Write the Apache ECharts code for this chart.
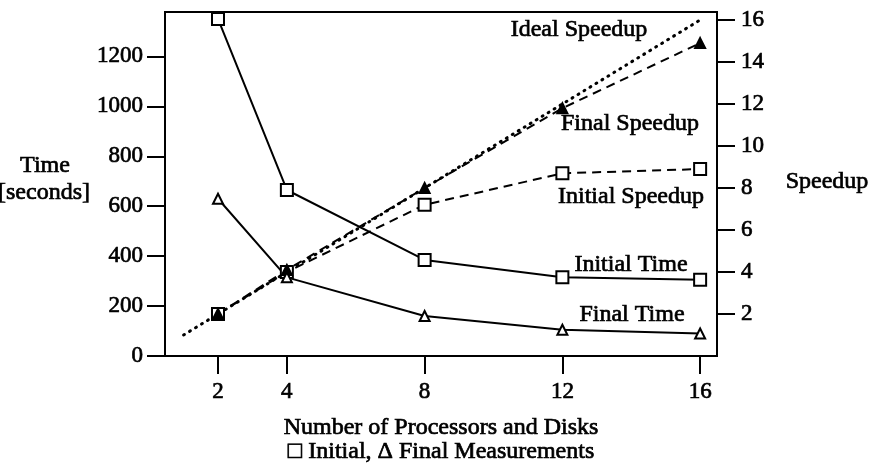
<!DOCTYPE html>
<html>
<head>
<meta charset="utf-8">
<script src="https://cdn.jsdelivr.net/npm/echarts@6/dist/echarts.min.js"></script>
<style>html,body{margin:0;padding:0;background:#fff}#c{width:875px;height:468px}</style>
</head>
<body>
<div id="c"></div>
<script>
// ---- data ----
const processors = [2, 4, 8, 12, 16];
const initialTime = [1350, 665, 385, 315, 305];
const finalTime = [630, 315, 160, 105, 90];
const initialSpeedup = [2.0, 4.0, 7.2, 8.7, 8.9];
const finalSpeedup = [2.0, 4.1, 8.0, 11.8, 14.9];
const idealX = [1, 16];
const idealSpeedup = [1, 16];
const timeTicks = [0, 200, 400, 600, 800, 1000, 1200];
const speedupTicks = [2, 4, 6, 8, 10, 12, 14, 16];
const xTicks = [2, 4, 8, 12, 16];
const seriesLabels = ['Ideal Speedup', 'Final Speedup', 'Initial Speedup', 'Initial Time', 'Final Time'];

const FONT = '"Liberation Serif", "DejaVu Serif", serif';
const pair = (xs, ys) => xs.map((x, i) => [x, ys[i]]);

const chart = echarts.init(document.getElementById('c'), null, {renderer: 'canvas'});

const axisCommon = {
  axisLine: {show: true, lineStyle: {color: '#000', width: 2}},
  splitLine: {show: false},
  axisTick: {show: true, length: 18, lineStyle: {color: '#000', width: 2}},
};
const labelStyle = {color: '#000', fontFamily: FONT, fontSize: 23, textBorderColor: '#000', textBorderWidth: 0.7, formatter: v => String(v)};

const lineSeries = (name, data, yIdx, dashed, symbol, fill) => ({
  name, type: 'line', data: pair(processors, data), yAxisIndex: yIdx,
  symbol, symbolSize: symbol === 'rect' ? 12 : 10,
  itemStyle: {color: fill, borderColor: '#000', borderWidth: 2},
  lineStyle: {color: '#000', width: 2, type: dashed ? [9, 6] : 'solid'},
  z: 3, animation: false
});

const txt = (x, y, text) => ({
  type: 'text', x, y,
  style: {text, fontFamily: FONT, fontSize: 24, fill: '#000', stroke: '#000', lineWidth: 0.7, align: 'center', verticalAlign: 'middle'}
});

chart.setOption({
  animation: false,
  grid: {left: 165, right: 158, top: 12, bottom: 112, show: true, borderColor: '#000', borderWidth: 2, backgroundColor: 'transparent'},
  xAxis: {
    type: 'value', min: 0.461, max: 16.49,
    ...axisCommon,
    axisTick: {...axisCommon.axisTick, customValues: xTicks},
    axisLabel: {...labelStyle, customValues: xTicks, margin: 24}
  },
  yAxis: [
    {
      type: 'value', min: 0, max: 1378, position: 'left',
      ...axisCommon,
      axisTick: {...axisCommon.axisTick, customValues: timeTicks},
      axisLabel: {...labelStyle, customValues: timeTicks, margin: 22}
    },
    {
      type: 'value', min: 0, max: 16.38, position: 'right',
      ...axisCommon,
      axisTick: {...axisCommon.axisTick, customValues: speedupTicks},
      axisLabel: {...labelStyle, customValues: speedupTicks, margin: 24}
    }
  ],
  series: [
    {
      name: 'Ideal Speedup', type: 'line', yAxisIndex: 1, data: pair(idealX, idealSpeedup),
      symbol: 'none', lineStyle: {color: '#000', width: 3, type: [1, 6], cap: 'round'}, z: 2
    },
    lineSeries('Initial Speedup', initialSpeedup, 1, true, 'rect', '#fff'),
    lineSeries('Final Speedup', finalSpeedup, 1, true, 'triangle', '#000'),
    lineSeries('Initial Time', initialTime, 0, false, 'rect', '#fff'),
    lineSeries('Final Time', finalTime, 0, false, 'triangle', '#fff')
  ],
  graphic: [
    txt(579, 30, seriesLabels[0]),
    txt(630, 124, seriesLabels[1]),
    txt(631, 197, seriesLabels[2]),
    txt(631, 265, seriesLabels[3]),
    txt(632, 315, seriesLabels[4]),
    txt(45, 166, 'Time'),
    txt(44, 193, '[seconds]'),
    txt(827, 182, 'Speedup'),
    txt(441, 428, 'Number of Processors and Disks'),
    txt(441, 452, '\u25A1 Initial, \u0394 Final Measurements')
  ]
});
</script>
</body>
</html>
